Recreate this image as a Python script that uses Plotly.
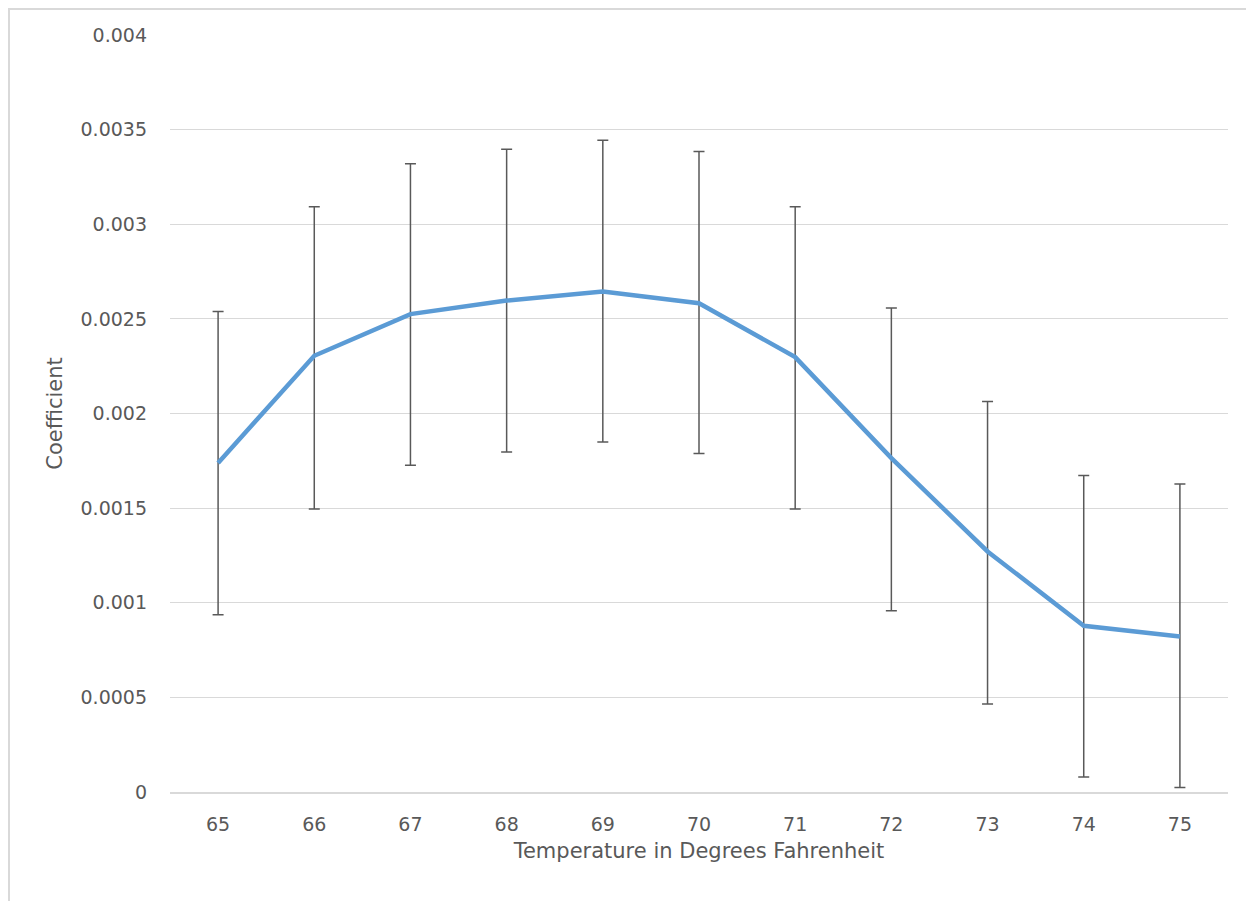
import plotly.graph_objects as go

temps = ["65", "66", "67", "68", "69", "70", "71", "72", "73", "74", "75"]
coef = [0.001739, 0.002305, 0.002525, 0.002597, 0.002644, 0.002583, 0.002298, 0.001764, 0.001271, 0.000878, 0.000822]
upper = [0.002539, 0.003092, 0.003320, 0.003396, 0.003444, 0.003384, 0.003092, 0.002558, 0.002063, 0.001672, 0.001627]
lower = [0.000937, 0.001496, 0.001727, 0.001796, 0.001849, 0.001789, 0.001496, 0.000958, 0.000465, 0.000079, 0.000024]

err_plus = [u - c for u, c in zip(upper, coef)]
err_minus = [c - l for c, l in zip(coef, lower)]

y_ticks = [0, 0.0005, 0.001, 0.0015, 0.002, 0.0025, 0.003, 0.0035, 0.004]
y_tick_text = ["0", "0.0005", "0.001", "0.0015", "0.002", "0.0025", "0.003", "0.0035", "0.004"]

TEXT = "#595959"
GRID = "#D9D9D9"
FONT = "DejaVu Sans"

fig = go.Figure()
fig.add_trace(go.Scatter(
    x=temps, y=coef, mode="lines",
    line=dict(color="#5B9BD5", width=4.5),
    error_y=dict(type="data", symmetric=False, array=err_plus, arrayminus=err_minus,
                 color="#595959", thickness=1.5, width=5.5),
    showlegend=False, hoverinfo="x+y",
))

fig.update_layout(
    width=1238, height=893,
    margin=dict(l=162, r=18, t=27, b=109),
    paper_bgcolor="white", plot_bgcolor="white",
    font=dict(family=FONT, color=TEXT, size=19),
    xaxis=dict(
        type="category",
        range=[-0.5, len(temps) - 0.5],
        showgrid=False, showline=True, linecolor=GRID, linewidth=2,
        ticks="", ticklabelstandoff=14,
        tickfont=dict(size=19, color=TEXT),
        title=dict(text="Temperature in Degrees Fahrenheit", font=dict(size=21, color=TEXT), standoff=10),
        fixedrange=True,
    ),
    yaxis=dict(
        range=[0, 0.004],
        tickvals=y_ticks, ticktext=y_tick_text,
        showgrid=True, gridcolor=GRID, gridwidth=1,
        zeroline=False, showline=False,
        ticks="", ticklabelstandoff=22,
        tickfont=dict(size=19, color=TEXT),
        title=dict(text="Coefficient", font=dict(size=21, color=TEXT), standoff=12),
        fixedrange=True,
    ),
    shapes=[
        dict(type="rect", xref="paper", yref="paper",
             x0=(1 - 162) / 1058, x1=1.2, y0=-0.3, y1=(757 + 27 - 1) / 757,
             line=dict(color=GRID, width=2), fillcolor="rgba(0,0,0,0)", layer="below"),
    ],
)

fig.write_html("out.html")
